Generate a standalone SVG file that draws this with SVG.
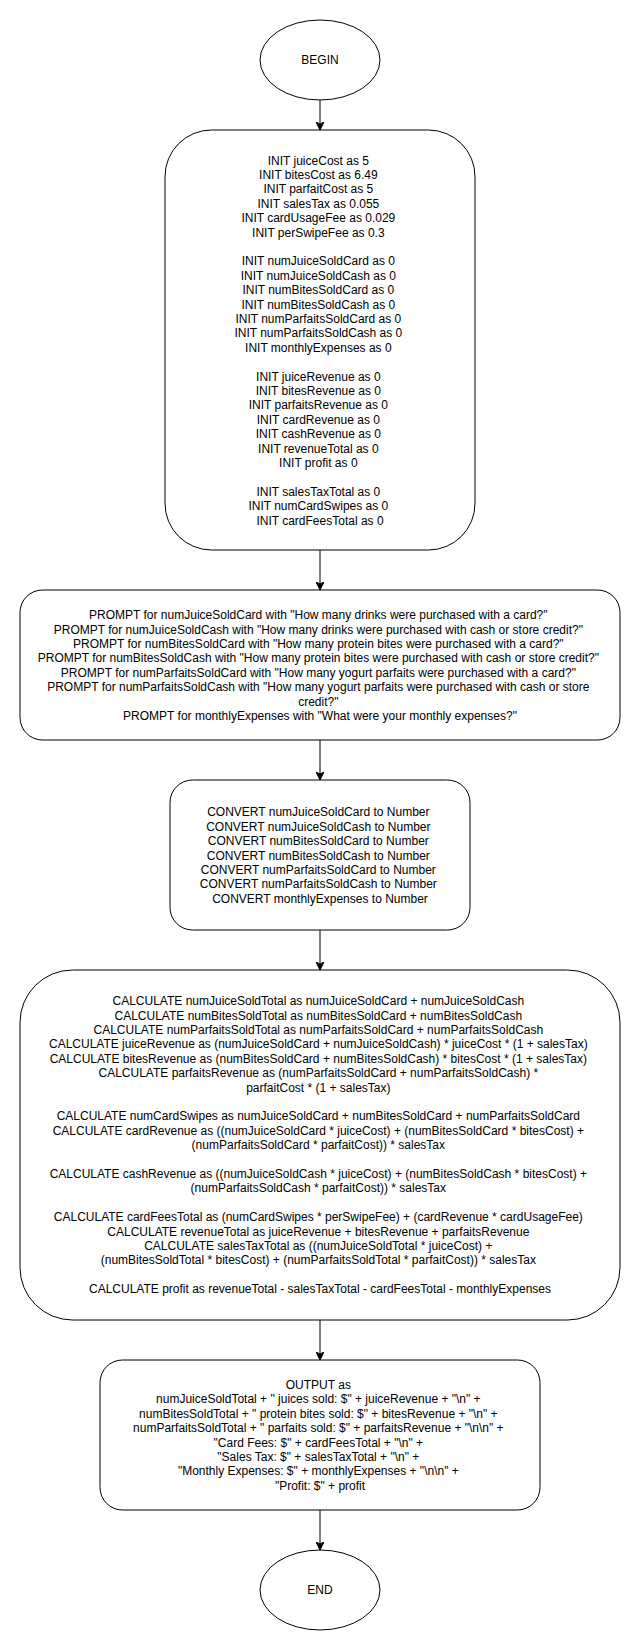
<svg xmlns="http://www.w3.org/2000/svg" width="641" height="1651" viewBox="0 0 641 1651">
<style>
.shape{fill:#ffffff;stroke:#000000;stroke-width:1}
.edge{fill:none;stroke:#000000;stroke-width:1}
.lbl{font-family:"Liberation Sans",Arial,Helvetica,sans-serif;font-size:12px;fill:#000000;text-anchor:middle}
</style>
<defs>
<marker id="arrow" markerUnits="userSpaceOnUse" markerWidth="8" markerHeight="8" refX="8" refY="4" orient="auto" viewBox="0 0 8 8">
<path d="M0,0 L8,4 L0,8 L2,4 Z" fill="#000000" stroke="#000000" stroke-width="1"/>
</marker>
</defs>
<rect width="641" height="1651" fill="#ffffff"/>
<g id="connectors">
<line class="edge" x1="320" y1="100" x2="320" y2="130" marker-end="url(#arrow)"/>
<line class="edge" x1="320" y1="550" x2="320" y2="590" marker-end="url(#arrow)"/>
<line class="edge" x1="320" y1="740" x2="320" y2="780" marker-end="url(#arrow)"/>
<line class="edge" x1="320" y1="930" x2="320" y2="970" marker-end="url(#arrow)"/>
<line class="edge" x1="320" y1="1320" x2="320" y2="1360" marker-end="url(#arrow)"/>
<line class="edge" x1="320" y1="1510" x2="320" y2="1550" marker-end="url(#arrow)"/>
</g>
<g id="begin">
<ellipse class="shape" cx="320" cy="60" rx="60" ry="40"/>
<text class="lbl" x="320" y="64.2">BEGIN</text>
</g>
<g id="init">
<rect class="shape" x="165" y="130" width="310" height="420" rx="46.5" ry="46.5"/>
<text class="lbl" x="320" y="164.6">
<tspan x="320" dy="0">INIT juiceCost as 5</tspan>
<tspan x="320" dy="14.4">INIT bitesCost as 6.49</tspan>
<tspan x="320" dy="14.4">INIT parfaitCost as 5</tspan>
<tspan x="320" dy="14.4">INIT salesTax as 0.055</tspan>
<tspan x="320" dy="14.4">INIT cardUsageFee as 0.029</tspan>
<tspan x="320" dy="14.4">INIT perSwipeFee as 0.3</tspan>
<tspan x="320" dy="28.8">INIT numJuiceSoldCard as 0</tspan>
<tspan x="320" dy="14.4">INIT numJuiceSoldCash as 0</tspan>
<tspan x="320" dy="14.4">INIT numBitesSoldCard as 0</tspan>
<tspan x="320" dy="14.4">INIT numBitesSoldCash as 0</tspan>
<tspan x="320" dy="14.4">INIT numParfaitsSoldCard as 0</tspan>
<tspan x="320" dy="14.4">INIT numParfaitsSoldCash as 0</tspan>
<tspan x="320" dy="14.4">INIT monthlyExpenses as 0</tspan>
<tspan x="320" dy="28.8">INIT juiceRevenue as 0</tspan>
<tspan x="320" dy="14.4">INIT bitesRevenue as 0</tspan>
<tspan x="320" dy="14.4">INIT parfaitsRevenue as 0</tspan>
<tspan x="320" dy="14.4">INIT cardRevenue as 0</tspan>
<tspan x="320" dy="14.4">INIT cashRevenue as 0</tspan>
<tspan x="320" dy="14.4">INIT revenueTotal as 0</tspan>
<tspan x="320" dy="14.4">INIT profit as 0</tspan>
<tspan x="320" dy="28.8">INIT salesTaxTotal as 0</tspan>
<tspan x="320" dy="14.4">INIT numCardSwipes as 0</tspan>
<tspan x="320" dy="14.4">INIT cardFeesTotal as 0</tspan>
</text>
</g>
<g id="prompt">
<rect class="shape" x="20" y="590" width="600" height="150" rx="22.5" ry="22.5"/>
<text class="lbl" x="320" y="619.2">
<tspan x="320" dy="0">PROMPT for numJuiceSoldCard with "How many drinks were purchased with a card?"</tspan>
<tspan x="320" dy="14.4">PROMPT for numJuiceSoldCash with "How many drinks were purchased with cash or store credit?"</tspan>
<tspan x="320" dy="14.4">PROMPT for numBitesSoldCard with "How many protein bites were purchased with a card?"</tspan>
<tspan x="320" dy="14.4">PROMPT for numBitesSoldCash with "How many protein bites were purchased with cash or store credit?"</tspan>
<tspan x="320" dy="14.4">PROMPT for numParfaitsSoldCard with "How many yogurt parfaits were purchased with a card?"</tspan>
<tspan x="320" dy="14.4">PROMPT for numParfaitsSoldCash with "How many yogurt parfaits were purchased with cash or store</tspan>
<tspan x="320" dy="14.4">credit?"</tspan>
<tspan x="320" dy="14.4">PROMPT for monthlyExpenses with "What were your monthly expenses?"</tspan>
</text>
</g>
<g id="convert">
<rect class="shape" x="170" y="780" width="300" height="150" rx="22.5" ry="22.5"/>
<text class="lbl" x="320" y="816.4">
<tspan x="320" dy="0">CONVERT numJuiceSoldCard to Number</tspan>
<tspan x="320" dy="14.4">CONVERT numJuiceSoldCash to Number</tspan>
<tspan x="320" dy="14.4">CONVERT numBitesSoldCard to Number</tspan>
<tspan x="320" dy="14.4">CONVERT numBitesSoldCash to Number</tspan>
<tspan x="320" dy="14.4">CONVERT numParfaitsSoldCard to Number</tspan>
<tspan x="320" dy="14.4">CONVERT numParfaitsSoldCash to Number</tspan>
<tspan x="320" dy="14.4">CONVERT monthlyExpenses to Number</tspan>
</text>
</g>
<g id="calculate">
<rect class="shape" x="20" y="970" width="600" height="350" rx="52.5" ry="52.5"/>
<text class="lbl" x="320" y="1005.2">
<tspan x="320" dy="0">CALCULATE numJuiceSoldTotal as numJuiceSoldCard + numJuiceSoldCash</tspan>
<tspan x="320" dy="14.4">CALCULATE numBitesSoldTotal as numBitesSoldCard + numBitesSoldCash</tspan>
<tspan x="320" dy="14.4">CALCULATE numParfaitsSoldTotal as numParfaitsSoldCard + numParfaitsSoldCash</tspan>
<tspan x="320" dy="14.4">CALCULATE juiceRevenue as (numJuiceSoldCard + numJuiceSoldCash) * juiceCost * (1 + salesTax)</tspan>
<tspan x="320" dy="14.4">CALCULATE bitesRevenue as (numBitesSoldCard + numBitesSoldCash) * bitesCost * (1 + salesTax)</tspan>
<tspan x="320" dy="14.4">CALCULATE parfaitsRevenue as (numParfaitsSoldCard + numParfaitsSoldCash) *</tspan>
<tspan x="320" dy="14.4">parfaitCost * (1 + salesTax)</tspan>
<tspan x="320" dy="28.8">CALCULATE numCardSwipes as numJuiceSoldCard + numBitesSoldCard + numParfaitsSoldCard</tspan>
<tspan x="320" dy="14.4">CALCULATE cardRevenue as ((numJuiceSoldCard * juiceCost) + (numBitesSoldCard * bitesCost) +</tspan>
<tspan x="320" dy="14.4">(numParfaitsSoldCard * parfaitCost)) * salesTax</tspan>
<tspan x="320" dy="28.8">CALCULATE cashRevenue as ((numJuiceSoldCash * juiceCost) + (numBitesSoldCash * bitesCost) +</tspan>
<tspan x="320" dy="14.4">(numParfaitsSoldCash * parfaitCost)) * salesTax</tspan>
<tspan x="320" dy="28.8">CALCULATE cardFeesTotal as (numCardSwipes * perSwipeFee) + (cardRevenue * cardUsageFee)</tspan>
<tspan x="320" dy="14.4">CALCULATE revenueTotal as juiceRevenue + bitesRevenue + parfaitsRevenue</tspan>
<tspan x="320" dy="14.4">CALCULATE salesTaxTotal as ((numJuiceSoldTotal * juiceCost) +</tspan>
<tspan x="320" dy="14.4">(numBitesSoldTotal * bitesCost) + (numParfaitsSoldTotal * parfaitCost)) * salesTax</tspan>
<tspan x="320" dy="28.8">CALCULATE profit as revenueTotal - salesTaxTotal - cardFeesTotal - monthlyExpenses</tspan>
</text>
</g>
<g id="output">
<rect class="shape" x="100" y="1360" width="440" height="150" rx="22.5" ry="22.5"/>
<text class="lbl" x="320" y="1389.0">
<tspan x="320" dy="0">OUTPUT as</tspan>
<tspan x="320" dy="14.4">numJuiceSoldTotal + " juices sold: $" + juiceRevenue + "\n" +</tspan>
<tspan x="320" dy="14.4">numBitesSoldTotal + " protein bites sold: $" + bitesRevenue + "\n" +</tspan>
<tspan x="320" dy="14.4">numParfaitsSoldTotal + " parfaits sold: $" + parfaitsRevenue + "\n\n" +</tspan>
<tspan x="320" dy="14.4">"Card Fees: $" + cardFeesTotal + "\n" +</tspan>
<tspan x="320" dy="14.4">"Sales Tax: $" + salesTaxTotal + "\n" +</tspan>
<tspan x="320" dy="14.4">"Monthly Expenses: $" + monthlyExpenses + "\n\n" +</tspan>
<tspan x="320" dy="14.4">"Profit: $" + profit</tspan>
</text>
</g>
<g id="end">
<ellipse class="shape" cx="320" cy="1590" rx="60" ry="40"/>
<text class="lbl" x="320" y="1594.2">END</text>
</g>
</svg>
